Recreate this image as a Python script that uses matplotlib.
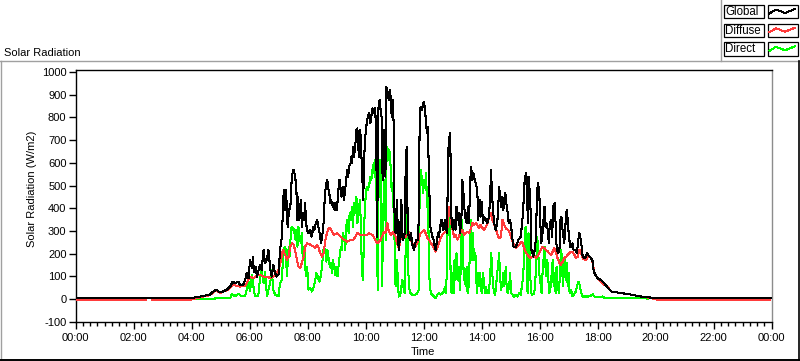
import matplotlib
matplotlib.use('Agg')
import matplotlib.pyplot as plt
import numpy as np
from matplotlib.lines import Line2D
from matplotlib.patches import Rectangle

plt.rcParams['font.family'] = ['Liberation Sans', 'DejaVu Sans']
FS = 8

# ---------------- data (time in minutes of day, W/m2) ----------------
global_t = [0, 237, 261, 278, 284, 291, 299, 305, 313, 320, 325, 330, 337, 340, 347, 351, 354, 358,
            361, 365, 367, 369, 373, 375, 382, 385, 389, 392, 396, 399, 403, 406, 409, 413, 416, 420,
            423, 427, 430, 432, 434, 436, 437, 439, 441, 445, 447, 449, 451, 453, 455, 457, 458, 460,
            461, 463, 466, 467, 468, 470, 473, 475, 477, 479, 482, 486, 488, 490, 492, 494, 497, 500,
            502, 504, 506, 508, 511, 513, 515, 517, 519, 521, 522, 525, 527, 529, 532, 534, 536, 539,
            541, 543, 546, 548, 550, 553, 555, 557, 560, 562, 564, 566, 569, 571, 572, 574, 576, 579,
            581, 583, 586, 589, 593, 595, 598, 600, 603, 607, 610, 614, 617, 620, 622, 624, 626, 627,
            629, 631, 633, 634, 636, 638, 640, 641, 643, 646, 648, 650, 652, 654, 656, 658, 660, 662,
            665, 667, 669, 671, 674, 676, 678, 681, 683, 685, 686, 687, 690, 692, 694, 696, 700, 703,
            705, 708, 710, 712, 714, 717, 719, 721, 723, 725, 727, 729, 731, 733, 734, 738, 741, 743,
            745, 747, 750, 752, 754, 757, 759, 761, 764, 766, 768, 769, 770, 772, 775, 776, 777, 779,
            782, 784, 786, 788, 791, 793, 795, 798, 800, 802, 804, 807, 809, 812, 814, 816, 818, 820,
            821, 823, 826, 828, 831, 833, 836, 838, 840, 843, 845, 849, 852, 855, 858, 859, 861, 863,
            866, 869, 872, 874, 876, 879, 880, 883, 885, 889, 892, 894, 896, 899, 901, 904, 906, 911,
            916, 921, 925, 927, 929, 932, 934, 936, 937, 938, 941, 943, 945, 947, 950, 952, 954, 956,
            959, 961, 963, 965, 967, 970, 972, 974, 977, 979, 981, 984, 986, 988, 991, 993, 994, 996,
            998, 1001, 1003, 1005, 1008, 1011, 1013, 1016, 1018, 1020, 1023, 1025, 1028, 1030, 1033,
            1037, 1040, 1042, 1044, 1047, 1049, 1053, 1056, 1058, 1063, 1069, 1072, 1079, 1086, 1093,
            1100, 1108, 1129, 1150, 1170, 1191, 1198, 1440]
global_v = [3, 3, 12, 19, 32, 41, 29, 33, 41, 55, 77, 70, 77, 63, 63, 85, 114, 92,
            173, 136, 187, 121, 143, 99, 151, 129, 217, 158, 173, 217, 129, 99, 150, 114, 99, 107,
            217, 275, 451, 481, 393, 481, 363, 319, 378, 422, 525, 554, 569, 554, 525, 481, 348, 451,
            407, 348, 436, 407, 319, 378, 348, 422, 334, 304, 290, 304, 275, 290, 319, 304, 334, 348,
            319, 304, 275, 246, 290, 334, 422, 481, 510, 525, 495, 466, 422, 436, 407, 422, 393, 422,
            393, 466, 525, 495, 451, 495, 436, 466, 525, 569, 539, 583, 598, 627, 598, 671, 627, 686,
            745, 752, 627, 745, 554, 437, 671, 730, 788, 818, 774, 840, 818, 840, 701, 275, 788, 862,
            877, 833, 803, 583, 525, 745, 715, 539, 935, 908, 877, 921, 891, 803, 877, 774, 349, 290,
            437, 261, 217, 275, 437, 275, 261, 292, 598, 671, 627, 292, 275, 261, 292, 246, 217, 246,
            261, 261, 349, 818, 847, 833, 862, 869, 833, 774, 730, 760, 525, 407, 319, 275, 261, 231,
            217, 246, 292, 275, 319, 349, 319, 305, 349, 319, 292, 349, 554, 701, 730, 583, 378, 319,
            305, 349, 305, 407, 349, 378, 292, 334, 525, 481, 407, 349, 334, 407, 334, 495, 583, 554,
            525, 554, 525, 510, 481, 349, 437, 363, 429, 334, 363, 349, 334, 363, 451, 569, 495, 407,
            334, 305, 334, 378, 495, 437, 407, 451, 393, 466, 407, 378, 334, 349, 319, 261, 231, 231,
            261, 275, 363, 437, 525, 554, 437, 334, 539, 525, 407, 217, 202, 187, 217, 261, 407, 510,
            481, 363, 246, 261, 319, 407, 319, 334, 305, 246, 334, 349, 275, 407, 422, 334, 261, 217,
            202, 217, 349, 363, 290, 246, 319, 393, 349, 290, 231, 231, 246, 217, 217,
            202, 261, 290, 275, 231, 187, 180, 187, 202, 187, 173, 121, 92, 85, 70,
            53, 33, 26, 19, 11, 6, 3, 3]

diffuse_t = [0, 145, 150, 158, 237, 261, 278, 291, 299, 313, 320, 326, 340, 351, 354, 361, 368, 375,
             382, 389, 396, 403, 409, 416, 423, 429, 434, 437, 441, 444, 448, 451, 454, 458, 461, 465,
             468, 472, 475, 479, 486, 492, 496, 500, 503, 506, 510, 513, 517, 520, 524, 527, 531, 534,
             541, 548, 555, 562, 569, 575, 579, 583, 589, 596, 603, 607, 614, 620, 624, 631, 634, 638,
             641, 645, 648, 652, 655, 658, 662, 665, 669, 672, 676, 679, 683, 686, 690, 693, 697, 700,
             703, 707, 710, 714, 717, 721, 724, 728, 731, 735, 738, 741, 745, 748, 752, 755, 759, 762,
             766, 769, 771, 773, 776, 778, 780, 783, 786, 790, 793, 797, 800, 804, 807, 811, 814, 818,
             821, 825, 828, 831, 835, 838, 842, 845, 849, 852, 855, 859, 861, 864, 866, 869, 873, 876,
             880, 883, 887, 890, 894, 897, 901, 904, 907, 911, 914, 918, 921, 925, 928, 932, 935, 938,
             942, 945, 949, 952, 956, 959, 963, 966, 970, 973, 977, 980, 984, 987, 990, 994, 997, 1001,
             1004, 1008, 1011, 1015, 1018, 1021, 1025, 1028, 1032, 1035, 1039, 1042, 1046, 1049, 1053,
             1056, 1060, 1063, 1067, 1070, 1073, 1080, 1087, 1094, 1101, 1108, 1129, 1150, 1170, 1191,
             1205, 1436]
diffuse_v = [-4, -4, None, -4, -4, 10, 17, 38, 27, 38, 50, 62, 55, 58, 70, 99, 92, 103,
             107, 99, 99, 92, 99, 107, 151, 217, 194, 173, 187, 231, 246, 239, 217, 173, 143, 136,
             158, 187, 231, 246, 239, 231, 224, 239, 224, 202, 187, 202, 261, 290, 312, 312, 297, 283,
             290, 275, 261, 253, 261, 261, 275, 290, 283, 283, 283, 290, 283, 261, 246, 261, 275, 297,
             290, 334, 297, 283, 290, 297, 275, 246, 224, 261, 275, 268, 275, 283, 297, 261, 246, 224,
             231, 246, 268, 290, 297, 305, 290, 268, 261, 246, 239, 224, 209, 224, 246, 268, 283, 290,
             297, 305, 349, 407, 378, 319, 305, 275, 283, 261, 275, 297, 305, 283, 290, 297, 290, 312,
             334, 327, 334, 327, 312, 327, 312, 305, 319, 334, 356, 378, 356, 341, 327, 312, 283, 268,
             275, 349, 327, 312, 305, 297, 275, 253, 239, 224, 231, 239, 253, 246, 224, 202, 195, 187,
             180, 187, 195, 180, 187, 202, 217, 231, 224, 217, 209, 202, 195, 209, 224, 202, 180, 158,
             151, 165, 180, 187, 195, 202, 209, 209, 195, 180, 187, 217, 202, 180, 173,
             173, 187, 187, 180, 158, 117, 92, 77, 63, 53, 33, 26, 19, 11, 4,
             -4, -4]

direct_t = [250, 320, 323, 330, 337, 344, 351, 354, 358, 361, 365, 368, 371, 378, 382, 385, 389, 392,
            396, 403, 406, 409, 413, 420, 423, 427, 430, 434, 436, 437, 439, 441, 443, 445, 447, 449,
            451, 453, 455, 457, 459, 461, 463, 466, 468, 470, 473, 475, 477, 479, 481, 482, 486, 489,
            493, 496, 498, 500, 503, 505, 507, 510, 512, 514, 517, 519, 521, 524, 526, 528, 531, 532,
            535, 537, 540, 542, 544, 547, 549, 551, 553, 556, 558, 560, 562, 565, 567, 569, 572, 574,
            576, 579, 581, 583, 586, 588, 590, 592, 594, 596, 598, 601, 603, 605, 608, 610, 612, 615,
            617, 619, 620, 623, 625, 627, 629, 631, 633, 634, 636, 638, 640, 642, 643, 645, 647, 649,
            651, 653, 655, 657, 659, 660, 662, 664, 665, 667, 669, 672, 674, 676, 678, 681, 683, 685,
            686, 687, 690, 692, 694, 696, 700, 703, 707, 710, 712, 714, 716, 718, 719, 721, 723, 725,
            727, 729, 731, 733, 735, 738, 741, 745, 748, 752, 755, 759, 762, 764, 766, 768, 770, 772,
            775, 776, 778, 780, 782, 784, 786, 788, 790, 793, 795, 797, 799, 801, 803, 805, 807, 809,
            811, 813, 816, 818, 820, 822, 824, 826, 828, 830, 832, 834, 836, 838, 840, 843, 845, 847,
            849, 851, 853, 855, 858, 860, 862, 864, 866, 868, 870, 872, 874, 876, 878, 880, 883, 885,
            887, 890, 892, 894, 897, 899, 901, 904, 907, 911, 914, 918, 921, 925, 927, 929, 931, 933,
            935, 937, 939, 941, 943, 945, 949, 951, 953, 955, 957, 959, 961, 964, 966, 968, 970, 972,
            974, 976, 978, 980, 983, 985, 987, 989, 991, 993, 995, 997, 1000, 1002, 1004, 1006, 1008,
            1010, 1012, 1014, 1016, 1018, 1020, 1022, 1025, 1028, 1032, 1035, 1037, 1040, 1042, 1044,
            1047, 1049, 1060, 1067, 1070, 1073, 1080, 1091, 1094, 1163, 1185]
direct_v = [0, 4, 23, 12, 23, 12, 15, 41, 77, 33, 107, 55, 12, 12, 99, 129, 70, 121,
            12, 77, 129, 41, 19, 12, 70, 85, 217, 231, 173, 99, 158, 231, 187, 275, 319, 305,
            312, 290, 261, 305, 231, 319, 275, 246, 290, 173, 231, 143, 99, 143, 70, 41, 48, 33,
            55, 85, 114, 107, 85, 77, 99, 143, 202, 231, 202, 165, 217, 173, 143, 158, 114, 173,
            143, 107, 143, 99, 143, 202, 231, 217, 290, 261, 217, 319, 349, 290, 378, 349, 407, 319,
            422, 378, 451, 334, 378, 437, 349, 158, 85, 202, 378, 481, 495, 481, 510, 539, 525, 583,
            598, 539, 613, 407, 41, 525, 613, 583, 261, 55, 290, 525, 481, 261, 598, 671, 613, 657,
            627, 495, 510, 407, 437, 231, 55, 85, 173, 55, 11, 19, 55, 85, 55, 26, 231, 613,
            583, 173, 55, 26, 26, 19, 19, 19, 26, 41, 525, 569, 539, 495, 466, 525, 495, 554,
            407, 495, 143, 55, 26, 19, 11, 4, 19, 26, 19, 26, 33, 55, 26, 114, 349, 407,
            290, 55, 26, 114, 26, 173, 85, 202, 85, 143, 41, 143, 349, 290, 85, 114, 55, 143,
            26, 55, 217, 349, 173, 290, 173, 202, 187, 26, 114, 55, 114, 85, 26, 114, 70, 26,
            55, 26, 41, 26, 114, 202, 114, 55, 26, 19, 55, 114, 143, 202, 114, 41, 70, 114,
            55, 143, 41, 26, 55, 114, 26, 19, 11, 19, 11, 26, 19, 85, 143, 261, 319, 217,
            26, 290, 217, 85, 26, 19, 26, 85, 143, 275, 217, 114, 85, 26, 114, 173, 231, 143,
            99, 173, 85, 26, 55, 114, 173, 55, 114, 26, 143, 70, 26, 114, 217, 187, 55,
            114, 173, 85, 158, 55, 114, 26, 40, 12, 23, 33, 55, 77, 70, 48,
            19, 11, 11, 16, 22, 11, 9, 11, 4, 4, 2]

tick_minutes = list(range(0, 1441, 120))
tick_labels = ['00:00', '02:00', '04:00', '06:00', '08:00', '10:00', '12:00',
               '14:00', '16:00', '18:00', '20:00', '22:00', '00:00']
y_ticks = list(range(-100, 1001, 100))

legend_names = ['Global', 'Diffuse', 'Direct']
colors = ['#000000', '#ff3b3b', '#00ff00']

# ---------------- figure ----------------
W, H = 800, 361
fig = plt.figure(figsize=(8, 3.61), dpi=100)
fig.patch.set_facecolor('white')


def fx(x):
    return x / W


def fy(y):
    return 1 - y / H


ax = fig.add_axes([fx(75.5), fy(321.7), fx(771.7) - fx(75.5), fy(70) - fy(321.7)])


def arr(v):
    return np.array([np.nan if a is None else a for a in v], dtype=float)


LW = 0.75
ax.plot(direct_t, arr(direct_v), color=colors[2], lw=LW, antialiased=False, zorder=3)
ax.plot(diffuse_t, arr(diffuse_v), color=colors[1], lw=LW, antialiased=False, zorder=4)
ax.plot(global_t, arr(global_v), color=colors[0], lw=LW, antialiased=False, zorder=5)

ax.set_xlim(0, 1440)
ax.set_ylim(-100, 1009)
ax.set_xticks(tick_minutes)
ax.set_xticklabels(tick_labels, fontsize=FS)
ax.set_xticks(list(range(0, 1441, 15)), minor=True)
ax.set_yticks(y_ticks)
ax.set_yticklabels([str(v) for v in y_ticks], fontsize=FS)
ax.tick_params(axis='x', which='major', length=5, width=1, pad=3, direction='out')
ax.tick_params(axis='x', which='minor', length=3, width=1, direction='out')
ax.tick_params(axis='y', which='major', length=5, width=1, pad=1.5, direction='out')
for s in ['left', 'top', 'bottom']:
    ax.spines[s].set_color('black')
    ax.spines[s].set_linewidth(1.0)
ax.spines['right'].set_color('#8c8c8c')
ax.spines['right'].set_linewidth(1.0)

fig.text(fx(4), fy(52.5), 'Solar Radiation', ha='left', va='center', fontsize=FS)
fig.text(fx(32), fy(189), 'Solar Radiation (W/m2)', ha='center', va='center', rotation=90, fontsize=FS)
fig.text(fx(423), fy(352), 'Time', ha='center', va='center', fontsize=FS)

# outer frame
tf = fig.transFigure
fig.add_artist(Line2D([fx(0), fx(800)], [fy(61), fy(61)], color='#a0a0a0', lw=1.0, transform=tf))
fig.add_artist(Line2D([fx(0.8), fx(0.8)], [fy(61), fy(361)], color='#a0a0a0', lw=1.0, transform=tf))
fig.add_artist(Line2D([fx(798.5), fx(798.5)], [fy(61), fy(360)], color='black', lw=1.2, transform=tf))
fig.add_artist(Line2D([fx(0), fx(799)], [fy(359.8), fy(359.8)], color='black', lw=1.4, transform=tf))
fig.add_artist(Line2D([fx(720.5), fx(720.5)], [fy(0), fy(61)], color='#a0a0a0', lw=1.0, transform=tf))

# legend
row_tops = [5, 23.7, 42.3]
for name, col, top in zip(legend_names, colors, row_tops):
    h = 13.3
    fig.add_artist(Rectangle((fx(723.5), fy(top + h)), fx(40), h / H, fill=False,
                             ec='black', lw=0.9, transform=tf))
    fig.add_artist(Rectangle((fx(767.5), fy(top + h)), fx(30.5), h / H, fill=False,
                             ec='black', lw=0.9, transform=tf))
    fig.text(fx(725.5), fy(top + h / 2 + 0.3), name, ha='left', va='center', fontsize=FS + 0.3)
    zx = [769.5, 776, 785, 795]
    zy = [top + 8.5, top + 4.5, top + 8, top + 4]
    fig.add_artist(Line2D([fx(a) for a in zx], [fy(b) for b in zy], color=col, lw=0.72,
                          antialiased=False, transform=tf))

fig.savefig('out.png', dpi=100)
